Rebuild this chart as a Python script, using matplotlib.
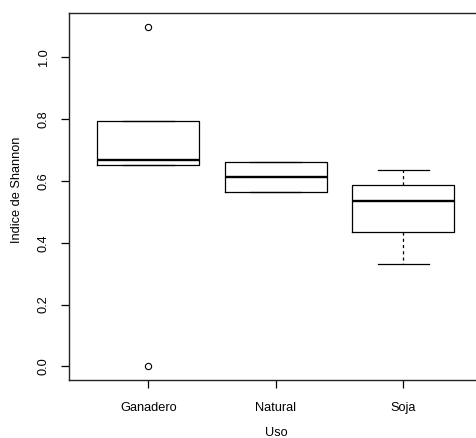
import numpy as np
import matplotlib
matplotlib.use('Agg')
import matplotlib.pyplot as plt

# valores (indice de Shannon por uso del suelo)
usos = ['Ganadero', 'Natural', 'Soja']
ganadero = [0.0, 0.653, 0.667, 0.795, 1.1]
natural = [0.563, 0.563, 0.613, 0.661, 0.661]
soja = [0.332, 0.435, 0.537, 0.587, 0.636]
yticks = [0.0, 0.2, 0.4, 0.6, 0.8, 1.0]

plt.rcParams['font.family'] = ['Liberation Sans', 'DejaVu Sans']

W, H = 477, 438
fig = plt.figure(figsize=(W / 100, H / 100), dpi=100)
ax = fig.add_axes([69.3 / W, (H - 380) / H, 412.7 / W, 367 / H])

ax.boxplot([ganadero, natural, soja], positions=[1, 2, 3], widths=0.8, whis=1.5,
           boxprops=dict(color='black', linewidth=0.9),
           medianprops=dict(color='black', linewidth=1.7, solid_capstyle='butt'),
           whiskerprops=dict(color='black', linewidth=0.9, linestyle=(0, (2.5, 2.5))),
           capprops=dict(color='black', linewidth=0.9),
           capwidths=0.4,
           flierprops=dict(marker='o', markerfacecolor='none', markeredgecolor='black',
                           markersize=4.5, markeredgewidth=0.8))

ax.set_xlim(0.38, 3.62)
ax.set_ylim(-0.044, 1.144)
ax.set_xticks([1, 2, 3])
ax.set_xticklabels(usos)
ax.set_yticks(yticks)
ax.set_yticklabels([f'{v:.1f}' for v in yticks], rotation=90, va='center')

ax.tick_params(axis='both', direction='out', length=6, width=0.9,
               labelsize=9.2, colors='black')
ax.tick_params(axis='x', pad=10)
ax.tick_params(axis='y', pad=8)
for s in ax.spines.values():
    s.set_linewidth(1.0)
    s.set_color('#222222')

fig.text(17 / W, 1 - 190 / H, 'Indice de Shannon', rotation=90, ha='center',
         va='center', fontsize=9.2)
fig.text(276 / W, 1 - 433 / H, 'Uso', ha='center', va='center', fontsize=9.2)

fig.savefig('out.png', dpi=100)
